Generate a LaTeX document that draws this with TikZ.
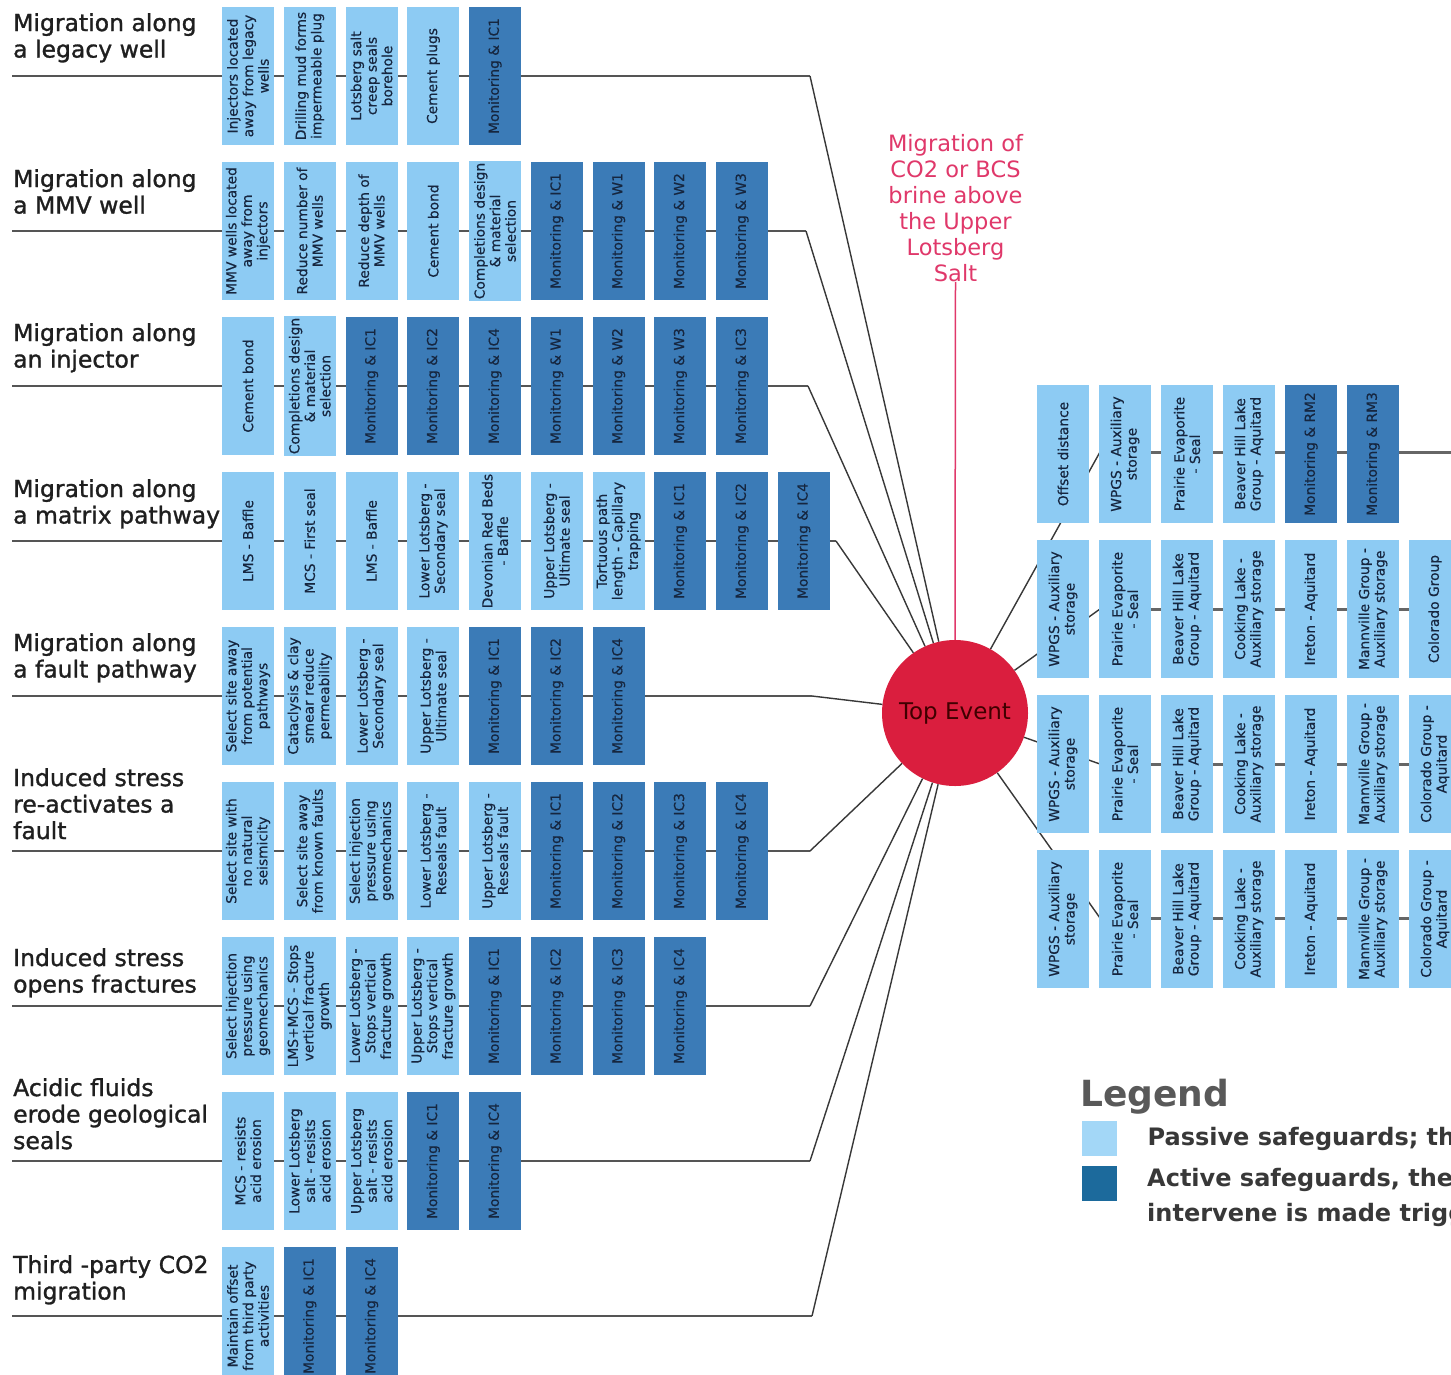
\documentclass[tikz,border=0pt]{standalone}
\usepackage{fontspec}
\setmainfont{DejaVu Sans}
\newfontfamily\threatfont[FakeBold=1.2]{DejaVu Sans}
\newfontfamily\guardfont[FakeBold=0.5]{DejaVu Sans}
\usetikzlibrary{positioning}
\definecolor{passblue}{HTML}{8DCBF3}
\definecolor{actblue}{HTML}{3B7BB7}
\definecolor{boxtext}{HTML}{16263F}
\definecolor{eventred}{HTML}{DA1E3E}
\definecolor{notered}{HTML}{E0386A}
\definecolor{wiregray}{HTML}{555555}
\definecolor{legpass}{HTML}{A3D7F7}
\definecolor{legact}{HTML}{1C6A9C}
\tikzset{
  guard/.style={rotate=90,minimum width=138pt,minimum height=52pt,inner sep=2pt,align=center,text=boxtext,font=\guardfont\fontsize{13.8}{15.5}\selectfont},
  pas/.style={guard,fill=passblue},
  act/.style={guard,fill=actblue},
  threat/.style={anchor=north west,inner sep=0pt,align=left,text=black!88,font=\threatfont\fontsize{23.5}{26.5}\selectfont},
  event/.style={circle,fill=eventred,minimum size=146pt,inner sep=0pt,text=black!75!red,font=\fontsize{23}{23}\selectfont},
  note/.style={inner sep=0pt,align=center,text=notered,font=\fontsize{22.5}{26}\selectfont},
  wire/.style={draw=wiregray,line width=2pt},
  spoke/.style={draw=black!78,line width=1.4pt},
  legtext/.style={anchor=west,inner sep=0pt,align=left,text=black!78,font=\fontsize{24}{35}\selectfont\bfseries}
}

\begin{document}
\begin{tikzpicture}[x=1pt,y=-1pt]
  \useasboundingbox (0,0) rectangle (1451,1374);
  \fill[white] (0,0) rectangle (1451,1374);
  \clip (0,0) rectangle (1451,1374);

  % top event
  \node[event] (top) at (955,713) {Top Event};
  \node[note] (desc) at (955.5,208) {Migration of\\CO2 or BCS\\brine above\\the Upper\\Lotsberg\\Salt};
  \draw[notered,line width=1.5pt] (desc.south) -- (top.north);

  % threat lines on the left
  \foreach \r/\y/\jx in {1/76/810,2/231/806,3/386/808,4/541/836,5/696/812,6/851/810,7/1006/810,8/1161/810,9/1316/812} {
    \coordinate (ls\r) at (12,\y);
    \coordinate (lj\r) at (\jx,\y);
    \draw[wire] (ls\r) -- (lj\r);
    \draw[spoke] (lj\r) -- (top);
  }
  % consequence lines on the right
  \foreach \r/\y in {1/452,2/609,3/764,4/918} {
    \coordinate (rj\r) at (1100,\y);
    \coordinate (re\r) at (1451,\y);
    \draw[spoke] (top) -- (rj\r);
    \draw[wire,line width=3pt,draw=black!60] (rj\r) -- (re\r);
  }

  % threats
  \node[threat] (th1) at (13,13) {Migration along\\a legacy well};
  \node[threat] (th2) at (13,169) {Migration along\\a MMV well};
  \node[threat] (th3) at (13,323) {Migration along\\an injector};
  \node[threat] (th4) at (13,479) {Migration along\\a matrix pathway};
  \node[threat] (th5) at (13,633) {Migration along\\a fault pathway};
  \node[threat] (th6) at (13,768) {Induced stress\\re-activates a\\fault};
  \node[threat] (th7) at (13,948) {Induced stress\\opens fractures};
  \node[threat] (th8) at (13,1078) {Acidic fluids\\erode geological\\seals};
  \node[threat] (th9) at (13,1255) {Third -party CO2\\migration};

  % preventive barriers
  \foreach \txt/\kind [count=\i] in {{Injectors located\\away from legacy\\wells}/pas,{Drilling mud forms\\impermeable plug}/pas,{Lotsberg salt\\creep seals\\borehole}/pas,{Cement plugs}/pas,{Monitoring \& IC1}/act}
    \node[\kind] (l1b\i) at ({248+61.75*(\i-1)},76) {\txt};
  \foreach \txt/\kind [count=\i] in {{MMV wells located\\away from\\injectors}/pas,{Reduce number of\\MMV wells}/pas,{Reduce depth of\\MMV wells}/pas,{Cement bond}/pas,{Completions design\\\& material\\selection}/pas,{Monitoring \& IC1}/act,{Monitoring \& W1}/act,{Monitoring \& W2}/act,{Monitoring \& W3}/act}
    \node[\kind] (l2b\i) at ({248+61.75*(\i-1)},231) {\txt};
  \foreach \txt/\kind [count=\i] in {{Cement bond}/pas,{Completions design\\\& material\\selection}/pas,{Monitoring \& IC1}/act,{Monitoring \& IC2}/act,{Monitoring \& IC4}/act,{Monitoring \& W1}/act,{Monitoring \& W2}/act,{Monitoring \& W3}/act,{Monitoring \& IC3}/act}
    \node[\kind] (l3b\i) at ({248+61.75*(\i-1)},386) {\txt};
  \foreach \txt/\kind [count=\i] in {{LMS - Baffle}/pas,{MCS - First seal}/pas,{LMS - Baffle}/pas,{Lower Lotsberg -\\Secondary seal}/pas,{Devonian Red Beds\\- Baffle}/pas,{Upper Lotsberg -\\Ultimate seal}/pas,{Tortuous path\\length - Capillary\\trapping}/pas,{Monitoring \& IC1}/act,{Monitoring \& IC2}/act,{Monitoring \& IC4}/act}
    \node[\kind] (l4b\i) at ({248+61.75*(\i-1)},541) {\txt};
  \foreach \txt/\kind [count=\i] in {{Select site away\\from potential\\pathways}/pas,{Cataclysis \& clay\\smear reduce\\permeability}/pas,{Lower Lotsberg -\\Secondary seal}/pas,{Upper Lotsberg -\\Ultimate seal}/pas,{Monitoring \& IC1}/act,{Monitoring \& IC2}/act,{Monitoring \& IC4}/act}
    \node[\kind] (l5b\i) at ({248+61.75*(\i-1)},696) {\txt};
  \foreach \txt/\kind [count=\i] in {{Select site with\\no natural\\seismicity}/pas,{Select site away\\from known faults}/pas,{Select injection\\pressure using\\geomechanics}/pas,{Lower Lotsberg -\\Reseals fault}/pas,{Upper Lotsberg -\\Reseals fault}/pas,{Monitoring \& IC1}/act,{Monitoring \& IC2}/act,{Monitoring \& IC3}/act,{Monitoring \& IC4}/act}
    \node[\kind] (l6b\i) at ({248+61.75*(\i-1)},851) {\txt};
  \foreach \txt/\kind [count=\i] in {{Select injection\\pressure using\\geomechanics}/pas,{LMS+MCS - Stops\\vertical fracture\\growth}/pas,{Lower Lotsberg -\\Stops vertical\\fracture growth}/pas,{Upper Lotsberg -\\Stops vertical\\fracture growth}/pas,{Monitoring \& IC1}/act,{Monitoring \& IC2}/act,{Monitoring \& IC3}/act,{Monitoring \& IC4}/act}
    \node[\kind] (l7b\i) at ({248+61.75*(\i-1)},1006) {\txt};
  \foreach \txt/\kind [count=\i] in {{MCS - resists\\acid erosion}/pas,{Lower Lotsberg\\salt - resists\\acid erosion}/pas,{Upper Lotsberg\\salt - resists\\acid erosion}/pas,{Monitoring \& IC1}/act,{Monitoring \& IC4}/act}
    \node[\kind] (l8b\i) at ({248+61.75*(\i-1)},1161) {\txt};
  \foreach \txt/\kind [count=\i] in {{Maintain offset\\from third party\\activities}/pas,{Monitoring \& IC1}/act,{Monitoring \& IC4}/act}
    \node[\kind] (l9b\i) at ({248+61.75*(\i-1)},1316) {\txt};

  % mitigating barriers
  \foreach \txt/\kind [count=\i] in {{Offset distance}/pas,{WPGS - Auxiliary\\storage}/pas,{Prairie Evaporite\\- Seal}/pas,{Beaver Hill Lake\\Group - Aquitard}/pas,{Monitoring \& RM2}/act,{Monitoring \& RM3}/act}
    \node[\kind] (r1b\i) at ({1063+62*(\i-1)},454) {\txt};
  \foreach \txt/\kind [count=\i] in {{WPGS - Auxiliary\\storage}/pas,{Prairie Evaporite\\- Seal}/pas,{Beaver Hill Lake\\Group - Aquitard}/pas,{Cooking Lake -\\Auxiliary storage}/pas,{Ireton - Aquitard}/pas,{Mannville Group -\\Auxiliary storage}/pas,{Colorado Group}/pas}
    \node[\kind] (r2b\i) at ({1063+62*(\i-1)},609) {\txt};
  \foreach \txt/\kind [count=\i] in {{WPGS - Auxiliary\\storage}/pas,{Prairie Evaporite\\- Seal}/pas,{Beaver Hill Lake\\Group - Aquitard}/pas,{Cooking Lake -\\Auxiliary storage}/pas,{Ireton - Aquitard}/pas,{Mannville Group -\\Auxiliary storage}/pas,{Colorado Group -\\Aquitard}/pas}
    \node[\kind] (r3b\i) at ({1063+62*(\i-1)},764) {\txt};
  \foreach \txt/\kind [count=\i] in {{WPGS - Auxiliary\\storage}/pas,{Prairie Evaporite\\- Seal}/pas,{Beaver Hill Lake\\Group - Aquitard}/pas,{Cooking Lake -\\Auxiliary storage}/pas,{Ireton - Aquitard}/pas,{Mannville Group -\\Auxiliary storage}/pas,{Colorado Group -\\Aquitard}/pas}
    \node[\kind] (r4b\i) at ({1063+62*(\i-1)},919) {\txt};

  % legend
  \node[anchor=north west,inner sep=0pt,text=black!65,font=\fontsize{36}{36}\selectfont\bfseries] (leg) at (1080,1079) {Legend};
  \node[fill=legpass,minimum size=35pt,inner sep=0pt,anchor=north west] (kpas) at (1082,1121) {};
  \node[fill=legact,minimum size=35pt,inner sep=0pt,anchor=north west] (kact) at (1082,1166) {};
  \node[legtext,right=30pt of kpas] (tpas) {Passive safeguards; th};
  \node[legtext,anchor=north west] (tact) at (1147,1168) {Active safeguards, the\\intervene is made trigg};
\end{tikzpicture}
\end{document}
